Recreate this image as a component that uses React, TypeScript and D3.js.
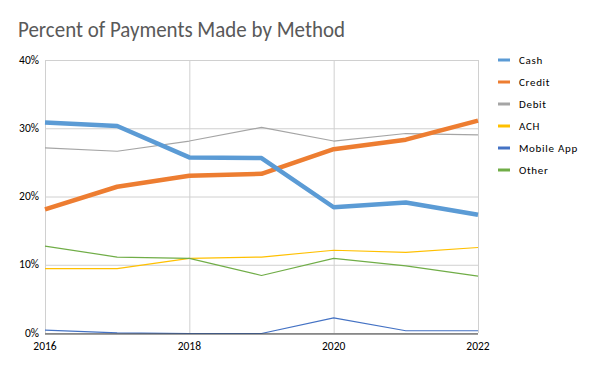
import React from "react";
import * as d3 from "d3";

const years = [2016, 2017, 2018, 2019, 2020, 2021, 2022];
const cash = [30.9, 30.4, 25.8, 25.7, 18.5, 19.2, 17.4];
const credit = [18.2, 21.5, 23.1, 23.4, 27.0, 28.4, 31.2];
const debit = [27.2, 26.7, 28.2, 30.2, 28.2, 29.3, 29.1];
const ach = [9.5, 9.5, 11.0, 11.2, 12.2, 11.9, 12.6];
const mobileApp = [0.5, 0.1, 0.0, 0.0, 2.3, 0.4, 0.4];
const other = [12.8, 11.2, 11.0, 8.5, 11.0, 9.9, 8.4];
const yTicks = [0, 10, 20, 30, 40];
const xTicks = [2016, 2018, 2020, 2022];

const series = [
  { name: "Cash", values: cash, color: "#5B9BD5", width: 4.5 },
  { name: "Credit", values: credit, color: "#ED7D31", width: 4.5 },
  { name: "Debit", values: debit, color: "#A5A5A5", width: 1.2 },
  { name: "ACH", values: ach, color: "#FFC000", width: 1.2 },
  { name: "Mobile App", values: mobileApp, color: "#4472C4", width: 1.2 },
  { name: "Other", values: other, color: "#70AD47", width: 1.2 },
];

export default function App() {
  const W = 600, H = 371;
  const x = d3.scaleLinear().domain([2016, 2022]).range([45, 478]);
  const y = d3.scaleLinear().domain([0, 40]).range([333.5, 60.5]);
  const line = d3.line<number>().x((_, i) => x(years[i])).y((d) => y(d));
  const font = "Calibri, Carlito, 'Open Sans', sans-serif";
  const order = ["Debit", "ACH", "Other", "Mobile App", "Credit", "Cash"];
  return (
    <svg width={W} height={H} style={{ position: "absolute", left: 0, top: 0, background: "#fff" }}>
      <rect width={W} height={H} fill="#fff" />
      <text x={18} y={37} fontFamily={font} fontSize={23} fill="#595959" textLength={327} lengthAdjust="spacingAndGlyphs">
        Percent of Payments Made by Method
      </text>
      {yTicks.map((t) => (
        <g key={"y" + t}>
          <line x1={45} x2={478} y1={y(t)} y2={y(t)} stroke="#d0d0d0" strokeWidth={1} />
          <text x={39} y={y(t) + 3} textAnchor="end" fontFamily={font} fontSize={11.5} fill="#000">
            {t}%
          </text>
        </g>
      ))}
      {xTicks.map((t) => (
        <g key={"x" + t}>
          <line x1={x(t) + 0.5} x2={x(t) + 0.5} y1={60} y2={333} stroke="#d0d0d0" strokeWidth={1} />
          <text x={x(t)} y={350} textAnchor="middle" fontFamily={font} fontSize={11.5} fill="#000">
            {t}
          </text>
        </g>
      ))}
      {order.map((n) => {
        const s = series.find((q) => q.name === n)!;
        return (
          <path key={s.name} d={line(s.values) || ""} fill="none" stroke={s.color} strokeWidth={s.width} strokeLinejoin="round" />
        );
      })}
      <line x1={45} x2={478} y1={334} y2={334} stroke="#404040" strokeWidth={1.2} />
      {series.map((s, i) => (
        <g key={"lg" + s.name} transform={`translate(498, ${60 + i * 22})`}>
          <line x1={0} x2={12} y1={0} y2={0} stroke={s.color} strokeWidth={3} />
          <text x={21} y={4} fontFamily={font} fontSize={11} fill="#000" letterSpacing={0.7}>
            {s.name}
          </text>
        </g>
      ))}
    </svg>
  );
}
